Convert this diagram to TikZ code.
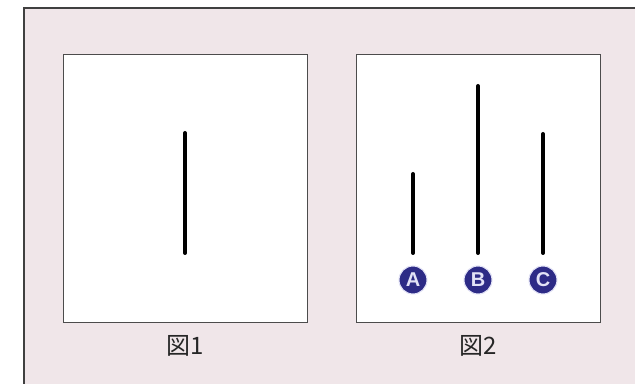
\documentclass[tikz,border=0pt]{standalone}
\usepackage{fontspec}
\newfontfamily\jpfont{Noto Sans CJK JP}[BoldFont={Noto Sans CJK JP Bold}]
\newfontfamily\ballfont{Liberation Sans}
\usepackage{tikz}
\usetikzlibrary{calc}
\definecolor{bgpink}{HTML}{F0E6E9}
\definecolor{balldark}{HTML}{2D2B86}
\definecolor{balltext}{HTML}{E2E2F6}
\tikzstyle{panel} = [rectangle, draw=black!70, line width=1.4pt, fill=white, minimum width=183pt, minimum height=201pt, inner sep=0pt]
\tikzstyle{ball} = [circle, fill=balldark, draw=balltext, line width=0.8pt, minimum size=21pt, inner sep=0pt, text=balltext, font=\ballfont\bfseries\fontsize{15}{15}\selectfont]
\tikzstyle{figlabel} = [text=black!85, font=\jpfont\fontsize{18}{20}\selectfont]
\tikzstyle{stick} = [line width=3pt, line cap=round, black]

\begin{document}
\begin{tikzpicture}[x=0.75pt, y=-0.75pt]
		\clip (0,0) rectangle (635,384);
		\fill[white] (0,0) rectangle (635,384);
		\draw[line width=1.5pt, draw=black!75, fill=bgpink] (24,8) rectangle (660,410);
		% panels
		\node[panel] (p1) at (185.5,188.5) {};
		\node[panel] (p2) at (478.5,188.5) {};
		\node[figlabel] (l1) at (185,346) {図1};
		\node[figlabel] (l2) at (478,346) {図2};
		% sticks
		\coordinate (s1) at (185,133);
		\coordinate (s1b) at (185,253);
		\coordinate (sa) at (413,174);
		\coordinate (sab) at (413,253);
		\coordinate (sb) at (478,86);
		\coordinate (sbb) at (478,253);
		\coordinate (sc) at (543,134);
		\coordinate (scb) at (543,253);
		\foreach \from/\to in {s1/s1b,sa/sab,sb/sbb,sc/scb}
		\draw[stick] (\from) -- (\to);
		% balls
		\node[ball] (ba) at (413,280) {A};
		\node[ball] (bb) at (478,280) {B};
		\node[ball] (bc) at (543,280) {C};
	\end{tikzpicture}
\end{document}
